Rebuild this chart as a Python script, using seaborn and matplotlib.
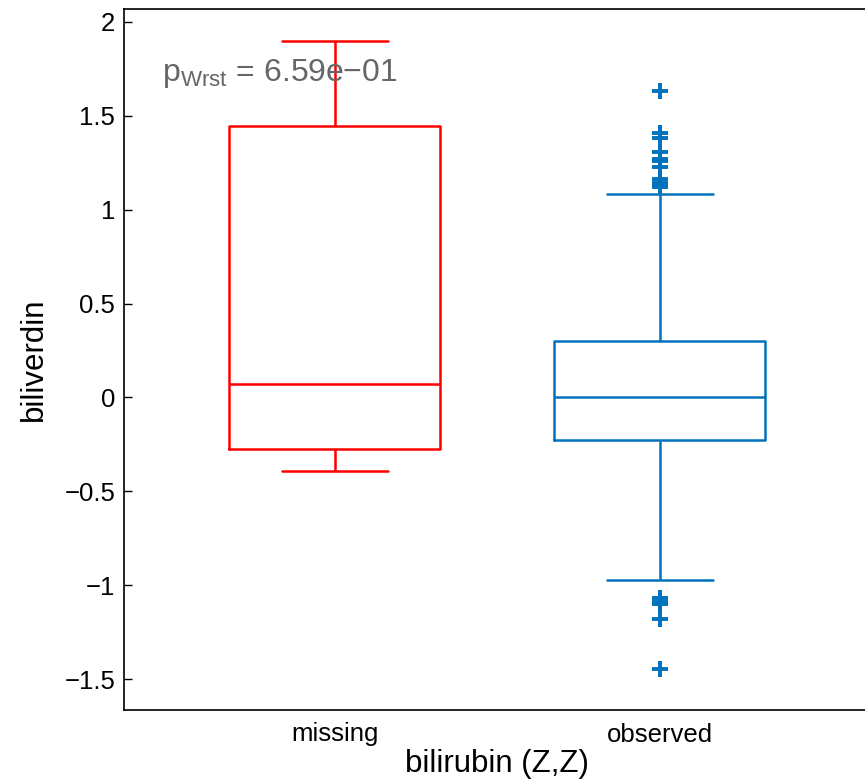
#%%
import numpy as np                           # numerical helpers.
import pandas as pd                          # for wrapping the samples.
import seaborn as sns                        # for plotting.
import matplotlib
matplotlib.use("Agg")                        # no display available.
import matplotlib.pyplot as plt

#%%
# Values.
groups = ["missing", "observed"]
missing_vals = [-0.39, -0.275, 0.07, 1.445, 1.90]
observed_vals = [
    # lower outliers
    -1.447, -1.181, -1.10, -1.09, -1.069,
    # lower whisker up to q1
    -0.975, -0.82, -0.70, -0.61, -0.52, -0.45, -0.39, -0.33, -0.29, -0.25,
    -0.226,
    # q1 up to median
    -0.21, -0.19, -0.17, -0.15, -0.13, -0.11, -0.09, -0.07, -0.06, -0.05,
    -0.04, -0.03, -0.02, -0.01,
    0.0,
    # median up to q3
    0.02, 0.04, 0.06, 0.08, 0.10, 0.12, 0.14, 0.16, 0.18, 0.20,
    0.22, 0.24, 0.26, 0.28,
    0.30,
    # q3 up to upper whisker
    0.45, 0.65, 0.85, 1.085,
    # upper outliers
    1.12, 1.133, 1.14, 1.165, 1.225, 1.257, 1.27, 1.305, 1.381, 1.408, 1.633,
]
group_colors = {"missing": "#FF0000", "observed": "#0072BD"}
y_ticks = [-1.5, -1, -0.5, 0, 0.5, 1, 1.5, 2]
y_tick_labels = ["\u22121.5", "\u22121", "\u22120.5", "0", "0.5", "1", "1.5", "2"]
p_text = "p$_{\\mathrm{Wrst}}$ = 6.59e\u221201"

#%%
data = pd.DataFrame({
    "bilirubin": ["missing"] * len(missing_vals) + ["observed"] * len(observed_vals),
    "biliverdin": missing_vals + observed_vals,
})

sns.set_style("ticks")
plt.rcParams["font.family"] = ["Liberation Sans", "DejaVu Sans"]
plt.rcParams["mathtext.fontset"] = "custom"
plt.rcParams["mathtext.rm"] = "Liberation Sans"
plt.rcParams["mathtext.it"] = "Liberation Sans:italic"
plt.rcParams["text.color"] = "black"
plt.rcParams["axes.labelcolor"] = "black"

fig = plt.figure(figsize=(8.65, 7.82), dpi=100)
ax = fig.add_axes([123.5 / 865, 72 / 782, 747.5 / 865, 701 / 782])

sns.boxplot(
    data=data, x="bilirubin", y="biliverdin", hue="bilirubin",
    order=groups, hue_order=groups, palette=group_colors,
    fill=False, width=0.65, linewidth=1.8, legend=False, ax=ax,
    flierprops=dict(marker="+", markersize=11, markeredgewidth=2.8),
)

ax.set_xlim(-0.65, 1.65)
ax.set_ylim(-1.665, 2.069)
ax.set_yticks(y_ticks)
ax.set_yticklabels(y_tick_labels)
ax.tick_params(axis="y", direction="in", length=6, width=1, pad=6,
               labelsize=18.5, colors="black")
ax.tick_params(axis="x", length=0, pad=9, labelsize=18.5, colors="black")
for side in ["left", "bottom", "top"]:
    ax.spines[side].set_visible(True)
    ax.spines[side].set_linewidth(1.2)
    ax.spines[side].set_color("black")
ax.spines["right"].set_visible(False)       # lies past the figure edge.
ax.set_xlabel("bilirubin (Z,Z)", fontsize=22.5, labelpad=2, color="black")
ax.set_ylabel("biliverdin", fontsize=22.5, labelpad=11, color="black")

# Wilcoxon rank-sum p-value label.
ax.text(-0.53, 1.687, p_text, fontsize=23, color="#666666", va="baseline")

fig.savefig("out.png", dpi=100)
